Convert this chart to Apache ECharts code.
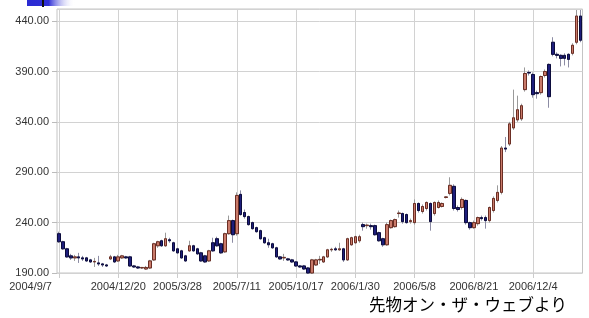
<!DOCTYPE html>
<html>
<head>
<meta charset="utf-8">
<script src="https://cdn.jsdelivr.net/npm/echarts@6/dist/echarts.min.js"></script>
<style>
  html, body { margin: 0; padding: 0; background: #fff; }
  #chart { width: 589px; height: 318px; }
</style>
</head>
<body>
<div id="chart"></div>
<script>
// weekly candles, one label every 15 weeks
const tickLabels = ['2004/9/7', '2004/12/20', '2005/3/28', '2005/7/11', '2005/10/17',
  '2006/1/30', '2006/5/8', '2006/8/21', '2006/12/4'];
const weeksPerTick = 15;

const opens = [
  229, 221, 214, 207, 205, 206, 205, 205, 203, 201, 200, 199, 198, 204, 206, 202, 205, 206, 206, 197,
  196, 195, 194, 195, 203, 217, 222, 217, 223, 220, 214, 212, 207, 212, 217, 214, 210, 207, 202, 220,
  224, 219, 211, 229, 242, 229, 268, 250, 246, 240, 235, 232, 225, 220, 219, 215, 206, 205, 204, 203,
  201, 197, 197, 195, 190, 198, 203, 201, 206, 213, 214, 213, 214, 203, 218, 220, 222, 238, 237, 237,
  237, 230, 224, 218, 235, 236, 249, 249, 248, 241, 240, 259, 251, 254, 259, 249, 255, 256, 265, 269,
  276, 255, 255, 262, 240, 235, 239, 245, 245, 242, 252, 262, 270, 314, 318, 334, 342, 343, 372, 389,
  387, 369, 369, 386, 397, 419, 407, 406, 406, 407, 408, 419, 445
];
const closes = [
  221, 214, 206, 205, 206, 205, 204, 202, 201, 201.5, 199, 198, 197, 206, 201, 206, 207, 205, 197, 196,
  195, 195.5, 195.5, 202, 219, 221, 217, 224, 222, 212, 210, 205, 202, 217, 212, 209, 202, 201, 212, 212,
  217, 210, 229, 242, 228, 267, 248, 246, 238, 234, 231, 224, 220, 218, 215, 206, 204, 205.5, 203, 201,
  197, 196, 194, 190, 203, 203, 203.5, 206, 213, 213.5, 213, 214, 203, 224, 225, 226, 226, 236, 237.5, 236,
  228, 222, 218, 238, 242, 243, 249.5, 241, 240, 242, 259, 252, 256, 260, 241, 260, 260, 259, 265.5, 277,
  254, 253, 263, 240, 235, 240, 245, 244, 242, 255, 264, 270, 314, 313, 338, 344, 352, 356, 388, 388.5,
  367, 368, 385, 390, 365, 407, 406, 403, 403, 402, 416, 445, 421
];
const lows = [
  220, 213, 205, 203, 202, 200, 202, 201, 200, 196, 197, 196, 196, 203, 200, 201, 204, 204, 196, 195,
  194, 194, 193, 194, 202, 215, 216, 216, 220, 211, 209, 204, 201, 211, 211, 208, 201, 200, 201, 211,
  216, 209, 210, 228, 220, 227, 247, 244, 237, 233, 230, 223, 219, 215, 214, 205, 203, 202, 202, 200,
  196, 195, 193, 189, 189, 197, 199, 200, 205, 211, 212, 212, 201, 202, 217, 219, 220, 232, 234, 233,
  227, 221, 216, 217, 234, 235, 245, 239, 239, 239, 238, 250, 249, 252, 232, 247, 254, 255, 264, 267,
  252, 251, 253, 238, 233, 234, 237, 242, 234, 240, 250, 260, 268, 310, 316, 332, 340, 341, 370, 386,
  364, 363, 367, 384, 354, 405, 403, 395, 396, 394, 406, 417, 419
];
const highs = [
  231, 222, 215, 209, 208, 210, 207, 206, 204, 205, 207, 200, 199, 208, 207, 208, 208, 207, 207, 198,
  197, 196, 197, 203, 220, 222, 223, 230, 225, 221, 215, 213, 208, 222, 218, 215, 211, 208, 213, 225,
  226, 220, 230, 247, 243, 270, 272, 253, 247, 241, 236, 233, 226, 224, 220, 216, 207, 209, 205, 204,
  202, 198, 198, 196, 204, 204, 207, 207, 214, 215, 216, 220, 215, 225, 226, 227, 228, 240, 239, 239,
  238, 231, 225, 240, 243, 244, 252, 250, 249, 244, 263, 260, 258, 261, 260, 261, 262, 260, 266, 285,
  278, 257, 265, 263, 241, 242, 246, 247, 247, 256, 266, 277, 316, 325, 340, 372, 366, 358, 394, 391,
  389, 371, 386, 392, 398, 424, 409, 407, 408, 408, 418, 451, 451
];

const weeks = opens.map((o, i) => String(i));
const fullRows = opens.map((o, i) => [o, closes[i], lows[i], highs[i]]);
const bodyRows = opens.map((o, i) => [o, closes[i], Math.min(o, closes[i]), Math.max(o, closes[i])]);

const labelFont = 'Liberation Sans, Arial, sans-serif';
const chart = echarts.init(document.getElementById('chart'));

chart.setOption({
  animation: false,
  grid: {
    left: 57, top: 9, width: 525.5, height: 264,
    show: true, borderColor: '#c4c4c4', borderWidth: 1
  },
  xAxis: {
    type: 'category',
    data: weeks,
    boundaryGap: true,
    axisLine: { show: false },
    axisTick: {
      show: true, interval: weeksPerTick - 1, alignWithLabel: true, length: 5,
      lineStyle: { color: '#cccccc' }
    },
    axisLabel: {
      interval: weeksPerTick - 1,
      color: '#333',
      fontSize: 11,
      fontFamily: labelFont,
      margin: 8,
      alignMinLabel: 'right',
      formatter: (value, index) => {
        const label = tickLabels[index / weeksPerTick] || '';
        return index === 0 ? '{first|' + label + '}' : label;
      },
      rich: {
        first: { padding: [0, 7, 0, 0], color: '#333', fontSize: 11, fontFamily: labelFont }
      }
    },
    splitLine: {
      show: true, interval: weeksPerTick - 1, alignWithLabel: true,
      lineStyle: { color: '#d2d2d2', width: 1 }
    }
  },
  yAxis: {
    type: 'value',
    min: 190,
    max: 452,
    interval: 50,
    axisLine: { show: false },
    axisTick: { show: true, length: 5, lineStyle: { color: '#bbbbbb' } },
    axisLabel: {
      color: '#333',
      fontSize: 11,
      fontFamily: labelFont,
      margin: 8,
      showMaxLabel: false,
      formatter: v => v.toFixed(2)
    },
    splitLine: { lineStyle: { color: '#d2d2d2', width: 1 } }
  },
  graphic: [
    {
      type: 'rect', left: 27, top: 0, shape: { width: 48, height: 6 },
      style: {
        fill: {
          type: 'linear', x: 0, y: 0, x2: 1, y2: 0,
          colorStops: [
            { offset: 0, color: '#2a2ad2' },
            { offset: 0.45, color: '#3030d6' },
            { offset: 1, color: 'rgba(255,255,255,0)' }
          ]
        }
      }
    },
    { type: 'rect', left: 42, top: 0, shape: { width: 2, height: 7 }, style: { fill: '#111' } },
    {
      type: 'text', left: 369, top: 296,
      style: { text: '先物オン・ザ・ウェブより', font: '16.5px "Noto Sans CJK JP"', fill: '#000' }
    }
  ],
  series: [
    {
      // wicks
      type: 'candlestick',
      data: fullRows,
      barWidth: 3,
      silent: true,
      itemStyle: {
        color: 'transparent', color0: 'transparent',
        borderColor: '#9a9a9a', borderColor0: '#8c8ca4', borderWidth: 1
      }
    },
    {
      // bodies
      type: 'candlestick',
      data: bodyRows,
      barWidth: 3,
      silent: true,
      itemStyle: {
        color: '#c97a6a', color0: '#1e1e7c',
        borderColor: '#6b2e24', borderColor0: '#0c0c3c', borderWidth: 1
      }
    }
  ]
});
</script>
</body>
</html>
